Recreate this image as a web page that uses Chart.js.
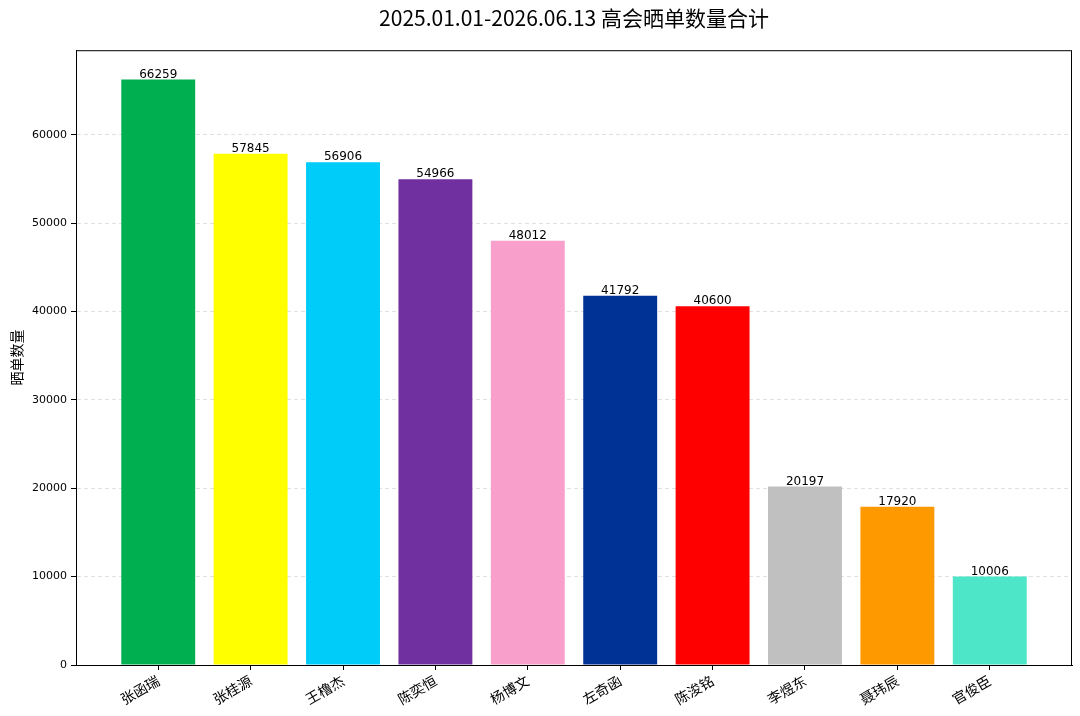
<!DOCTYPE html>
<html>
<head>
<meta charset="utf-8">
<script src="https://cdn.jsdelivr.net/npm/chart.js@4"></script>
<style>
  html, body { margin: 0; padding: 0; background: #fff; }
  #wrap { width: 1080px; height: 716px; }
</style>
</head>
<body>
<div id="wrap"><canvas id="chart" width="1080" height="716"></canvas></div>
<script>
// Chart data
const names = ['张函瑞', '张桂源', '王橹杰', '陈奕恒', '杨博文', '左奇函', '陈浚铭', '李煜东', '聂玮辰', '官俊臣'];
const counts = [66259, 57845, 56906, 54966, 48012, 41792, 40600, 20197, 17920, 10006];
const barColors = ['#00B050', '#FFFF00', '#00CCFA', '#7030A0', '#F99FCB', '#003296', '#FF0000', '#C0C0C0', '#FF9900', '#4DE6C8'];
const yTicks = [0, 10000, 20000, 30000, 40000, 50000, 60000];

const titleText = '2025.01.01-2026.06.13 高会晒单数量合计';
const yTitle = '晒单数量';

const tickFont = '"DejaVu Sans", sans-serif';
const cjkFont = '"Noto Sans CJK SC", "DejaVu Sans", sans-serif';

// Draw the value above each bar
const valueLabels = {
  id: 'valueLabels',
  afterDatasetsDraw(chart) {
    const ctx = chart.ctx;
    const meta = chart.getDatasetMeta(0);
    ctx.save();
    ctx.font = '12px ' + tickFont;
    ctx.fillStyle = '#000';
    ctx.textAlign = 'center';
    ctx.textBaseline = 'bottom';
    meta.data.forEach((bar, i) => {
      ctx.fillText(String(counts[i]), bar.x, bar.y + 1);
    });
    ctx.restore();
  }
};

// Black box around the plot area
const frame = {
  id: 'frame',
  afterDraw(chart) {
    const { left, top, right, bottom } = chart.chartArea;
    const ctx = chart.ctx;
    ctx.save();
    ctx.strokeStyle = '#000';
    ctx.lineWidth = 1;
    ctx.strokeRect(left + 0.5, top + 0.5, right - left - 1, bottom - top);
    ctx.restore();
  }
};

const ctx = document.getElementById('chart').getContext('2d');
new Chart(ctx, {
  type: 'bar',
  data: {
    datasets: [{
      data: counts.map((v, i) => ({ x: i, y: v })),
      backgroundColor: barColors,
      borderWidth: 0,
      barPercentage: 0.8,
      categoryPercentage: 1
    }]
  },
  options: {
    responsive: false,
    animation: false,
    layout: { padding: { left: 0, right: 8, top: 0, bottom: 0 } },
    plugins: {
      legend: { display: false },
      tooltip: { enabled: false },
      title: {
        display: true,
        fullSize: false,
        text: titleText,
        color: '#000',
        font: { family: cjkFont, size: 21, weight: 'normal' },
        padding: { top: 5, bottom: 20 }
      }
    },
    scales: {
      x: {
        type: 'linear',
        offset: false,
        min: -0.89,
        max: 9.89,
        afterBuildTicks: (scale) => {
          scale.ticks = names.map((n, i) => ({ value: i }));
        },
        afterFit: (scale) => { scale.height = 51; },
        grid: { drawOnChartArea: false, drawTicks: true, tickLength: 5, tickColor: '#000', offset: false },
        border: { display: true, color: '#000' },
        ticks: {
          autoSkip: false,
          maxRotation: 30,
          minRotation: 30,
          padding: 2,
          color: '#000',
          font: { family: cjkFont, size: 14 },
          callback: (value) => names[value]
        }
      },
      y: {
        min: 0,
        max: 69572,
        afterBuildTicks: (scale) => {
          scale.ticks = yTicks.map(v => ({ value: v }));
        },
        afterFit: (scale) => { scale.width = 76; },
        grid: {
          color: 'rgba(0,0,0,0.12)',
          tickColor: '#000',
          tickLength: 5,
          tickBorderDash: []
        },
        border: { display: true, color: '#000', dash: [4, 3] },
        title: {
          display: true,
          text: yTitle,
          color: '#000',
          font: { family: cjkFont, size: 14 },
          padding: { top: 8, bottom: 0 }
        },
        ticks: {
          color: '#000',
          padding: 4,
          font: { family: tickFont, size: 11 },
          callback: (value) => String(value)
        }
      }
    }
  },
  plugins: [valueLabels, frame]
});
</script>
</body>
</html>
